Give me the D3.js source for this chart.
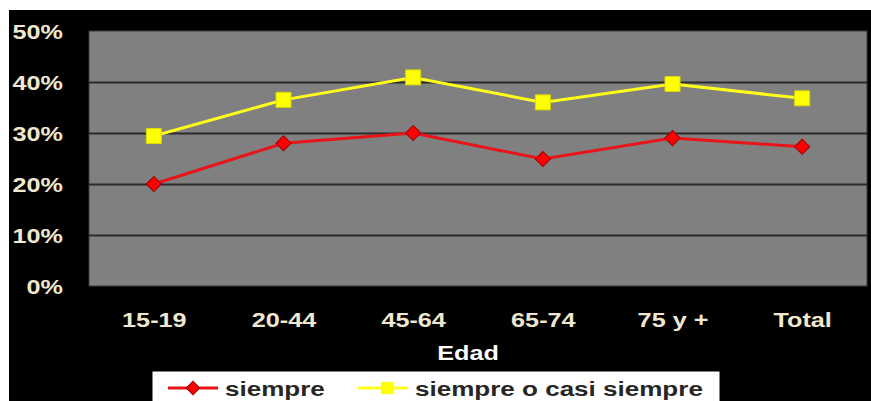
<!DOCTYPE html>
<html>
<head>
<meta charset="utf-8">
<script src="https://cdn.jsdelivr.net/npm/d3@7"></script>
<style>
  html, body { margin: 0; padding: 0; background: #ffffff; }
  svg { display: block; }
</style>
</head>
<body>
<svg id="chart" width="871" height="401"></svg>
<script>
// Age groups and share of respondents per answer
const categories = ["15-19", "20-44", "45-64", "65-74", "75 y +", "Total"];
const siempre = [20.0, 28.0, 30.0, 24.9, 29.0, 27.3];
const siempreOCasi = [29.4, 36.5, 40.9, 36.0, 39.6, 36.8];
const yTicks = [0, 10, 20, 30, 40, 50];
const seriesNames = ["siempre", "siempre o casi siempre"];

const svg = d3.select("#chart");
const W = 871, H = 401;
const plot = { left: 89, right: 867, top: 31, bottom: 286 };
const FONT = "Liberation Sans, Arial, sans-serif";
const STRETCH = 1.2; // wide lettering

// dark background panel
svg.append("rect").attr("x", 9).attr("y", 10).attr("width", W - 9).attr("height", H - 10).attr("fill", "#000");

const x = d3.scalePoint().domain(categories).range([plot.left, plot.right]).padding(0.5);
const y = d3.scaleLinear().domain([0, 50]).range([plot.bottom, plot.top]);

// plot area
svg.append("rect")
  .attr("x", plot.left).attr("y", plot.top)
  .attr("width", plot.right - plot.left).attr("height", plot.bottom - plot.top)
  .attr("fill", "#808080").attr("stroke", "#3a3a3a").attr("stroke-width", 1);

// horizontal gridlines
svg.append("g")
  .attr("transform", `translate(${plot.left},0)`)
  .call(d3.axisLeft(y).tickValues(yTicks.slice(1, -1)).tickSize(-(plot.right - plot.left)).tickFormat(""))
  .call(g => g.select(".domain").remove())
  .call(g => g.selectAll("line").attr("stroke", "#2a2a2a").attr("stroke-width", 2));

// y axis labels
svg.append("g")
  .attr("transform", `translate(${plot.left},0)`)
  .call(d3.axisLeft(y).tickValues(yTicks).tickSize(0).tickPadding(26).tickFormat(d => d + "%"))
  .call(g => g.select(".domain").remove())
  .call(g => g.selectAll("text")
    .attr("x", -26 / STRETCH)
    .attr("dy", "0.36em")
    .attr("transform", `scale(${STRETCH},1)`)
    .attr("fill", "#efe8cf")
    .attr("font-family", FONT)
    .attr("font-size", 21).attr("font-weight", "bold"));

// x axis labels
svg.append("g")
  .attr("transform", `translate(0,${plot.bottom})`)
  .call(d3.axisBottom(x).tickSize(0).tickPadding(26))
  .call(g => g.select(".domain").remove())
  .call(g => g.selectAll("text")
    .attr("transform", `scale(${STRETCH},1)`)
    .attr("fill", "#efe8cf")
    .attr("font-family", FONT)
    .attr("font-size", 21).attr("font-weight", "bold"));

// axis title
svg.append("text")
  .attr("transform", `translate(468,360) scale(${STRETCH},1)`)
  .attr("text-anchor", "middle")
  .attr("fill", "#ffffff")
  .attr("font-family", FONT)
  .attr("font-size", 21).attr("font-weight", "bold")
  .text("Edad");

const line = d3.line().x((d, i) => x(categories[i])).y(d => y(d));

// series: siempre o casi siempre (yellow squares)
svg.append("path").datum(siempreOCasi)
  .attr("d", line).attr("fill", "none")
  .attr("stroke", "#ffff1a").attr("stroke-width", 3);
svg.append("g").selectAll("path").data(siempreOCasi).join("path")
  .attr("transform", (d, i) => `translate(${x(categories[i])},${y(d)})`)
  .attr("d", d3.symbol().type(d3.symbolSquare).size(225))
  .attr("fill", "#ffff00").attr("stroke", "#d8d800").attr("stroke-width", 1);

// series: siempre (red diamonds)
svg.append("path").datum(siempre)
  .attr("d", line).attr("fill", "none")
  .attr("stroke", "#e8141a").attr("stroke-width", 3);
svg.append("g").selectAll("path").data(siempre).join("path")
  .attr("transform", (d, i) => `translate(${x(categories[i])},${y(d)}) rotate(45)`)
  .attr("d", d3.symbol().type(d3.symbolSquare).size(115))
  .attr("fill", "#ff0000").attr("stroke", "#9a0000").attr("stroke-width", 1);

// legend
const legend = svg.append("g");
legend.append("rect")
  .attr("x", 152).attr("y", 371).attr("width", 568).attr("height", 33)
  .attr("fill", "#ffffff").attr("stroke", "#000").attr("stroke-width", 1);

const legendItems = [
  { name: seriesNames[0], x0: 168, color: "#e8141a", marker: "diamond" },
  { name: seriesNames[1], x0: 358, color: "#ffff1a", marker: "square" }
];
legendItems.forEach(it => {
  const ly = 388;
  legend.append("line")
    .attr("x1", it.x0).attr("x2", it.x0 + 50).attr("y1", ly).attr("y2", ly)
    .attr("stroke", it.color).attr("stroke-width", 3);
  if (it.marker === "diamond") {
    legend.append("path")
      .attr("transform", `translate(${it.x0 + 25},${ly}) rotate(45)`)
      .attr("d", d3.symbol().type(d3.symbolSquare).size(90))
      .attr("fill", "#ff0000").attr("stroke", "#9a0000");
  } else {
    legend.append("path")
      .attr("transform", `translate(${it.x0 + 29},${ly})`)
      .attr("d", d3.symbol().type(d3.symbolSquare).size(150))
      .attr("fill", "#ffff00");
  }
  legend.append("text")
    .attr("transform", `translate(${it.x0 + 57},${ly + 8}) scale(1.24,1)`)
    .attr("fill", "#262626")
    .attr("font-family", FONT)
    .attr("font-size", 21).attr("font-weight", "bold")
    .text(it.name);
});
</script>
</body>
</html>
